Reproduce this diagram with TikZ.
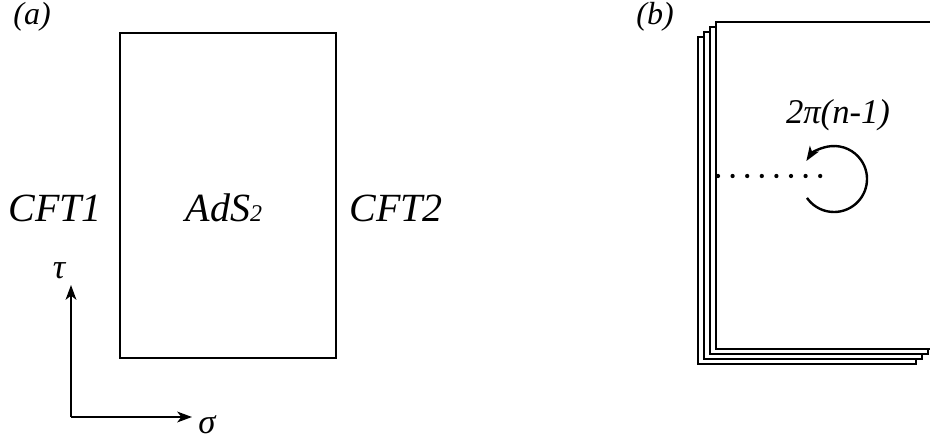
\documentclass[tikz,border=0pt]{standalone}
\usepackage{fontspec}
\setmainfont{Liberation Serif}
\usetikzlibrary{arrows.meta}

\begin{document}
\begin{tikzpicture}[x=0.75pt,y=-0.75pt,line width=1.8pt,
    >={Stealth[length=11pt,width=8pt,inset=3pt]},
    sheet/.style={draw,fill=white,line width=1.8pt},
    lbl/.style={font=\fontsize{30}{36}\selectfont\itshape},
    tag/.style={font=\fontsize{24}{28}\selectfont\itshape}]

    \clip (0,0) rectangle (930,442);

    % (a)
    \node[tag] (a) at (32,17) {(a)};
    \draw[sheet] (120,33) rectangle (336,358);
    \node[lbl] (cft1) at (55,208) {CFT1};
    \node[lbl] (ads)  at (224,208) {AdS{\fontsize{18}{20}\selectfont 2}};
    \node[lbl] (cft2) at (396,208) {CFT2};

    \coordinate (O) at (71,417);
    \coordinate (T) at (71,285);
    \coordinate (S) at (192,417);
    \draw[->] (O) -- (T);
    \draw[->] (O) -- (S);
    \node[lbl,font=\fontsize{26}{30}\selectfont\itshape] (tau) at (59,271) {τ};
    \node[lbl,font=\fontsize{26}{30}\selectfont\itshape] (sigma) at (207,425) {σ};

    % (b)
    \node[tag] (b) at (655,17) {(b)};
    \foreach \i in {3,2,1,0}
        \draw[sheet] (716-6*\i,22+5*\i) rectangle (934-6*\i,349+5*\i);

    \coordinate (cut) at (718,176);
    \coordinate (tip) at (822,176);
    \draw[line width=3.2pt,line cap=round,dash pattern=on 0pt off 10.95pt] (cut) -- (tip);

    \coordinate (ctr) at (834,179);
    \draw[->] (ctr) ++(145:33) arc[start angle=145,end angle=-147,radius=33];
    \node[font=\fontsize{26}{30}\selectfont\itshape] (angle) at (838,115) {2π(n-1)};
\end{tikzpicture}
\end{document}
